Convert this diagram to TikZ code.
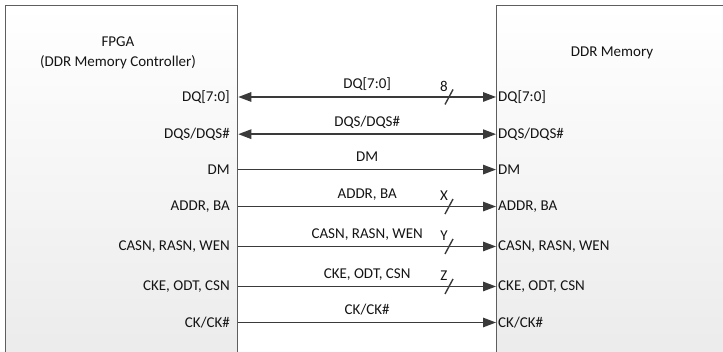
\documentclass[tikz,border=0pt]{standalone}
\usepackage{fontspec}
\setmainfont{Carlito}
\usetikzlibrary{arrows.meta}
\definecolor{wire}{HTML}{3A3A3A}
\definecolor{frame}{HTML}{5E5E5E}
\definecolor{txt}{HTML}{141414}

\begin{document}
\begin{tikzpicture}[x=1pt,y=-1pt,>={Triangle[length=13pt,width=9.5pt]},
    font=\fontsize{15}{20}\selectfont,
    chip/.style={draw=frame,line width=1.3pt,top color=white,bottom color=black!8,
      anchor=north west,inner sep=0pt,minimum height=362pt},
    pin/.style={text=txt,inner sep=0pt},
    bus/.style={wire,line width=1.4pt}]
  \useasboundingbox (0,0) rectangle (723,352);
  \node[chip,minimum width=232pt] (fpga) at (5,5) {};
  \node[chip,minimum width=228pt] (ddr) at (496,5) {};
  \node[pin,align=center] (fpgaT) at (118,53) {FPGA\\(DDR Memory Controller)};
  \node[pin] (ddrT) at (612,53) {DDR Memory};
  % signal rows
  \foreach \y/\sig/\arr [count=\i] in {99/{DQ[7:0]}/<->, 136/{DQS/DQS\#}/<->,
      172/DM/->, 208/{ADDR, BA}/->, 248/{CASN, RASN, WEN}/->,
      288/{CKE, ODT, CSN}/->, 325/{CK/CK\#}/->} {
    \node[pin,anchor=mid east] (l\i) at (230,\y) {\sig};
    \node[pin,anchor=mid west] (r\i) at (498,\y) {\sig};
    \coordinate (a\i) at (fpga.east |- l\i);
    \coordinate (b\i) at (ddr.west |- r\i);
    \draw[bus,\arr] (a\i) -- (b\i)
      node[midway,pin,anchor=base,yshift=8pt] (n\i) {\sig};
  }
  % bus widths
  \foreach \i/\w in {1/8,4/X,5/Y,6/Z} {
    \draw[bus] ([xshift=445pt,yshift=-7.5pt]a\i -| 0,0) -- ([xshift=453pt,yshift=7.5pt]a\i -| 0,0);
    \node[pin] (w\i) at ([xshift=444pt,yshift=11pt]a\i -| 0,0) {\w};
  }
\end{tikzpicture}
\end{document}
